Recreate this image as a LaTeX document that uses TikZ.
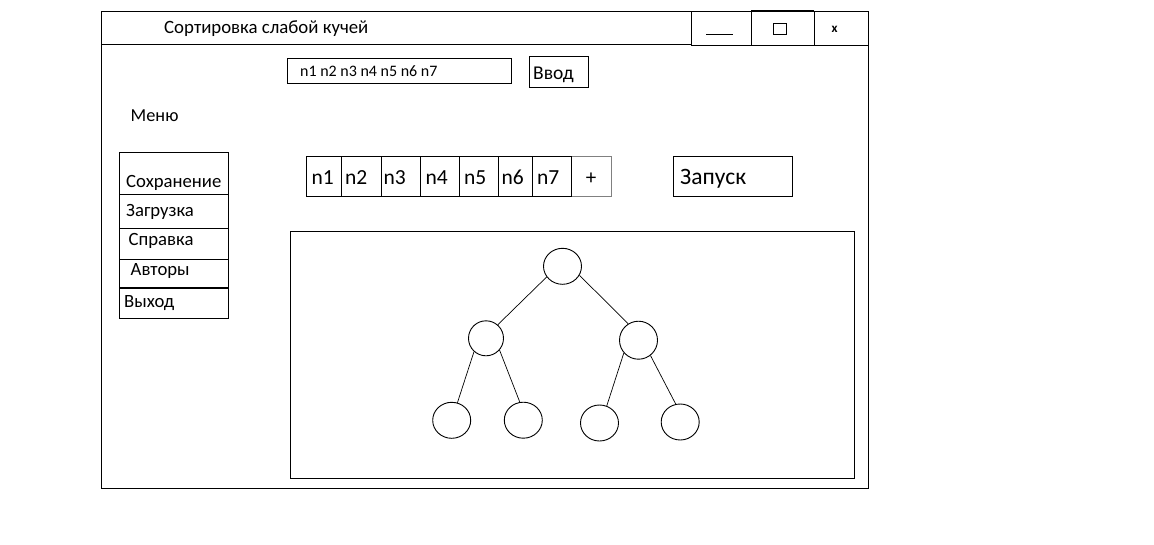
\documentclass[tikz,border=0pt]{standalone}
\usepackage{fontspec}
\setmainfont{Carlito}
\usetikzlibrary{shapes.geometric}
\tikzset{
  ln/.style={draw=black, line width=0.9pt},
  lbl/.style={anchor=base west, inner sep=0pt, text=black},
  vert/.style={draw=black, line width=0.9pt, ellipse, inner sep=0pt},
}
\begin{document}
\begin{tikzpicture}[x=1pt, y=-1pt]
\useasboundingbox[fill=white] (0,0) rectangle (1154,544);
% window
\draw[ln] (101,11) rectangle (868,488);
\draw[ln] (101,44) -- (691,44);
% title bar buttons
\draw[ln] (691,11) rectangle (751,45);
\draw[ln] (751,11) rectangle (814,45);
\draw[line width=1.6pt] (751,10.5) -- (814,10.5);
\draw[ln] (814,11) rectangle (868,45);
\draw[ln] (706,34) -- (733,34);
\draw[ln] (773,23) rectangle (786.5,34);
\node[lbl, anchor=center, font=\bfseries\fontsize{13}{15}\selectfont] (close) at (834.5,29.5) {x};
\node[lbl, font=\fontsize{18.8}{21}\selectfont] (title) at (164,33) {Сортировка слабой кучей};
% input
\draw[ln] (287,58) rectangle (511,83);
\node[lbl, font=\fontsize{16}{18}\selectfont] (inp) at (300,76) {n1 n2 n3 n4 n5 n6 n7};
\draw[ln] (529,56) rectangle (588,87);
\node[lbl, font=\fontsize{19.5}{22}\selectfont] (vvod) at (533,79) {Ввод};
% menu
\node[lbl, font=\fontsize{18.3}{21}\selectfont] (menu) at (130.5,121.7) {Меню};
\draw[ln] (119,152) rectangle (228,318);
\draw[ln] (119,194) -- (228,194);
\draw[ln] (119,228) -- (228,228);
\draw[ln] (119,259) -- (228,259);
\draw[line width=1.8pt] (119,288) -- (228,288);
\node[lbl, font=\fontsize{18.7}{21}\selectfont] (m1) at (126,187.7) {Сохранение};
\node[lbl, font=\fontsize{18.7}{21}\selectfont] (m2) at (126,216) {Загрузка};
\node[lbl, font=\fontsize{18.7}{21}\selectfont] (m3) at (128.5,245) {Справка};
\node[lbl, font=\fontsize{18.7}{21}\selectfont] (m4) at (130.5,275) {Авторы};
\node[lbl, font=\fontsize{18.7}{21}\selectfont] (m5) at (124,307.7) {Выход};
% cells
\foreach \a/\b in {306.7/341, 341/381, 381/420, 420/459, 459/498, 498/532.7, 532.7/571.7}
  \draw[ln] (\a,156) rectangle (\b,196);
\draw[draw=gray, line width=0.9pt] (571.7,156) -- (611,156) -- (611,196) -- (571.7,196);
\draw[ln] (571.7,156) -- (571.7,196);
\foreach \t/\x [count=\i] in {n1/311.5, n2/345, n3/383.5, n4/425.5, n5/464, n6/501.5, n7/537}
  \node[lbl, font=\fontsize{21.5}{24}\selectfont] (c\i) at (\x,184.3) {\t};
\node[lbl, anchor=center, font=\fontsize{21}{24}\selectfont] (plus) at (591,178.5) {+};
\draw[ln] (673,156) rectangle (792,196);
\node[lbl, font=\fontsize{23.5}{26}\selectfont] (run) at (680,184.3) {Запуск};
% panel
\draw[ln] (290,231) rectangle (854,478);
% tree
\node[vert, minimum width=38pt, minimum height=36pt] (r) at (562.5,266.3) {};
\node[vert, minimum width=35pt, minimum height=35pt] (l) at (486,338.3) {};
\node[vert, minimum width=38pt, minimum height=38pt] (rr) at (638.5,340.2) {};
\node[vert, minimum width=38pt, minimum height=36pt] (a) at (451.7,420.3) {};
\node[vert, minimum width=38pt, minimum height=36pt] (b) at (523.3,420.2) {};
\node[vert, minimum width=38pt, minimum height=36pt] (c) at (599.5,423) {};
\node[vert, minimum width=38pt, minimum height=36pt] (d) at (680.2,422) {};
\draw[ln, line width=0.7pt] (r.214) -- (l.49);
\draw[ln, line width=0.7pt] (r.332) -- (rr.122);
\draw[ln, line width=0.7pt] (l.228) -- (a.72);
\draw[ln, line width=0.7pt] (l.319) -- (b.101);
\draw[ln, line width=0.7pt] (rr.221) -- (c.67);
\draw[ln, line width=0.7pt] (rr.308) -- (d.104);
\end{tikzpicture}
\end{document}
